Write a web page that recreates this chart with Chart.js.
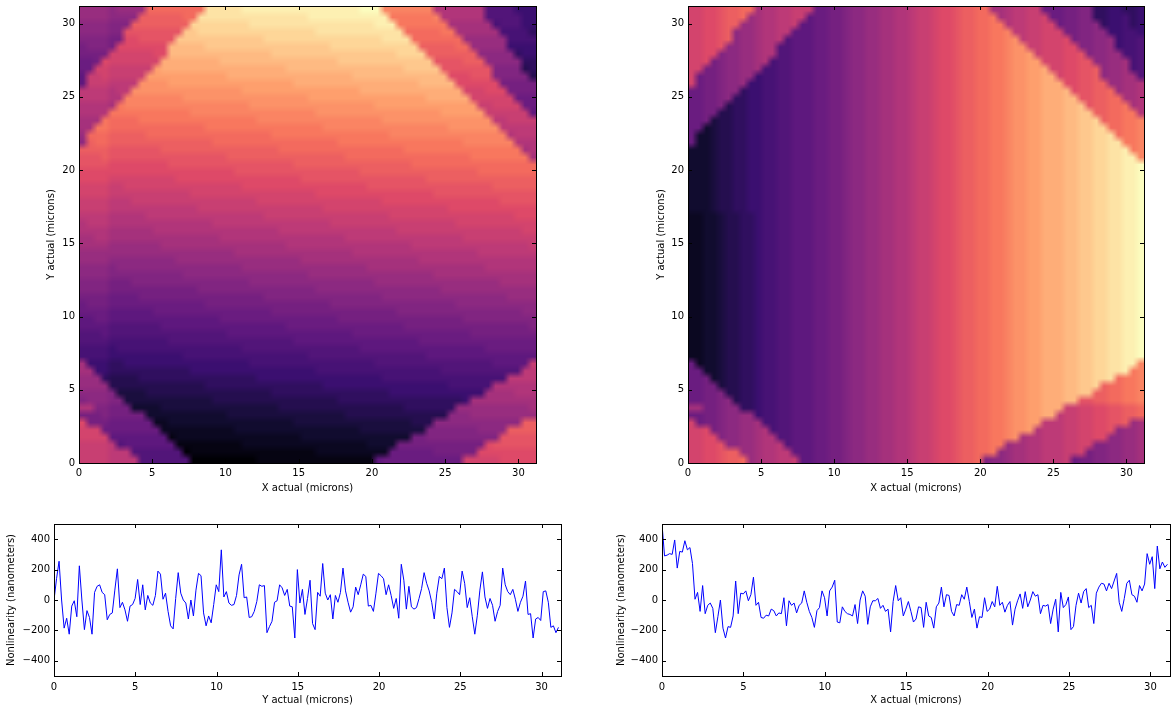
<!DOCTYPE html>
<html><head><meta charset="utf-8">
<style>html,body{margin:0;padding:0;background:#fff;width:1176px;height:712px;overflow:hidden}canvas{position:absolute}</style>
<script src="https://cdn.jsdelivr.net/npm/chart.js@4"></script>
</head><body>
<canvas id="hmL" width="543" height="494" style="left:45px;top:0"></canvas>
<canvas id="hmR" width="521" height="494" style="left:655px;top:0"></canvas>
<canvas id="lnL" width="583" height="196" style="left:5px;top:510px"></canvas>
<canvas id="lnR" width="561" height="196" style="left:615px;top:510px"></canvas>
<script>
const xTicksMap=[0,5,10,15,20,25,30];
const yTicksMap=[0,5,10,15,20,25,30];
const xTicksLine=[0,5,10,15,20,25,30];
const yTicksLine=[-400,-200,0,200,400];
const mapExtent=31.2;
const sampleStep=0.156;
const labelMapX="X actual (microns)";
const labelMapY="Y actual (microns)";
const labelLineLeft="Y actual (microns)";
const labelLineRight="X actual (microns)";
const labelNonlin="Nonlinearity (nanometers)";
const magma=["#000004","#140e36","#3b0f70","#641a80","#8c2981","#b73779","#de4968","#f7705c","#fe9f6d","#fecf92","#fcfdbf"];

// Left map, bottom row first. Each token: level (base 36) + run length.
const leftGrid=[
"j4 i4 97 09 116 a1 b11 k5 l5","j4 i3 97 01 117 210 b6 c6 l8","j4 i1 91 a7 19 217 34 c12 l1 m6","k4 a8 11 217 315 c2 d10 m5",
"k3 b1 b7 210 317 49 d7 e4 n4","l1 c3 b6 22 317 416 53 e12 n2","c3 d1 c5 311 416 514 e3 f9","h2 d2 c3 34 416 517 67 f10 g1",
"d1 e3 d2 412 517 617 71 g9","e4 d1 44 517 616 713 g4 h3","f4 513 616 717 86 h6","f3 61 54 616 717 817 i4",
"g2 72 611 717 817 911 i2","g1 73 62 717 817 916 a5 j1","84 710 817 916 a15","84 71 817 916 a17 b7",
"94 88 917 a17 b16","93 a1 916 a17 b16 c9","a4 97 a17 b16 c17 d1","a2 b2 a15 b16 c17 d10",
"b4 a6 b16 c17 d17 e2","b1 c3 b13 c17 d17 e11","c4 b4 c17 d16 e17 f4","d4 c12 d16 e17 f13",
"d4 c3 d16 e17 f17 g5","e4 d10 e17 f17 g14","e4 d1 e17 f17 g16 h7","f4 e9 f17 g16 h16",
"f4 f17 g16 h17 i8","g4 f7 g17 h17 i16 j1","g2 h2 g15 h17 i16 j10","h4 g6 h17 i16 j17 k2",
"h1 i3 h14 i16 j17 k11","i4 h5 i16 j17 k17 l3","j4 i12 j17 k17 l12","j4 i3 j17 k17 l16 m5",
"k4 j11 k17 l16 m14","k4 j2 k16 l17 m17 n6","l4 k9 l17 m17 n15","l4 l17 m17 n16 o8",
"m4 l8 m17 n16 o17","m3 n1 m16 n16 o17 p8 g1","n4 m7 n16 o17 p16 g1 h1","e1 n1 o2 n14 o17 p17 q7 h3",
"f1 o3 n5 o17 p16 q16 h1 i3","g2 p2 o13 p16 q17 r7 i5","g3 p1 o4 p16 q17 r15 i2 j4","h4 p11 q17 r17 s6 j6 a1",
"h4 g1 p1 q17 r17 s14 j2 k4 b2","i4 h2 q8 r17 s16 t6 k6 b3","i4 h1 i2 r15 s16 t14 k3 l3 c4","a1 j3 i4 r4 s17 t17 u5 l6 c5",
"a1 j2 k1 j5 s11 t17 u13 l3 m3 d5 51","b2 k2 j6 s1 t17 u16 v5 m7 d4 51 61","b2 c1 l1 k7 t8 u16 v13 m4 n3 e5 62","c4 k6 l2 u14 v17 w4 n7 e5 61 72",
"c1 d3 c1 l7 u5 v17 w12 n5 o2 f5 74","d4 c2 l2 m5 v12 w16 x4 o7 f6 84","e4 d2 m8 v2 w16 x12 o5 p2 g6 84 61","e4 d3 n8 w8 x17 y3 p7 g6 81 93 72",
"f4 e4 n6 o2 x15 y11 p6 q1 h6 95 72","f4 e1 f4 o8 x5 y16 z3 q7 h7 94 73"
];

// Right map, bottom row first. One base-36 level per cell.
const rCore="8899aaabbccdeeffgghhijjkllmnnooppqrrss";
const rMid="2233455667"+rCore+"tttuuvvwwxxyyz";
const rHigh="3334556677"+rCore+"tttuuvvwwxxyyz";
const rightGrid=[
"kkllmnnofghhiijaabbccdeeffgghhijjkllmnnodeefgghhiiijbccddeeffg",
"kkllmnnffghhiiaaabbccdeeffgghhijjkllmnnoopefgghhiiijjkcddeeffg",
"kkllmeeffghhi9aaabbccdeeffgghhijjkllmnnooppfgghhiiijjkkddeeffg",
"kkll"+"deeffghh"+"99aaabbccdeeffgghhijjkllmnnooppqr"+"ghhiiijjkkll"+"eeffg",
"kkl"+"cdeeffgh"+"899aaabbccdeeffgghhijjkllmnnooppqrrs"+"hiiijjkkllm"+"effg",
"k"+"bccdeeffg"+rCore+"iiijjkkllmmn"+"fg",
"bbccdeeff"+"7"+rCore+"tt"+"ijjkkllmmnno",
"ggccdee"+"667"+rCore+"ttt"+"jjkkllmmnno",
"bbccde"+"5667"+rCore+"ttt"+"uu"+"mmnnooppq",
"bbccd"+"55667"+rCore+"ttt"+"uuvv"+"nnooppq",
"bbcc"+"455667"+rCore+"ttt"+"uuvvw"+"nooppq",
"bbc"+"3455667"+rCore+"ttt"+"uuvvwwx"+"oppq",
"bb"+"33455667"+rCore+"ttt"+"uuvvwwxxy"+"pq",
"b"+"233455667"+rCore+"ttt"+"uuvvwwxxyy"+"q",
rMid,rMid,rMid,rMid,rMid,rMid,rMid,rMid,rMid,rMid,
rMid,rMid,rMid,rMid,rMid,rMid,rMid,rMid,rMid,rMid,
rHigh,rHigh,rHigh,rHigh,rHigh,rHigh,rHigh,
"3334556677"+rCore+"ttt"+"uuvvwwxxyy"+"q",
"3334556677"+rCore+"ttt"+"uuvvwwxxy"+"pq",
"b"+"334556677"+rCore+"ttt"+"uuvvwwxx"+"ppq",
"b"+"334556677"+rCore+"ttt"+"uuvvwwx"+"oppq",
"bb"+"34556677"+rCore+"ttt"+"uuvvww"+"ooppq",
"bbc"+"4556677"+rCore+"ttt"+"uuvvw"+"nooppq",
"bbcc"+"556677"+rCore+"ttt"+"uuvv"+"nnoopp"+"h",
"bbccd"+"56677"+rCore+"ttt"+"uuv"+"mnnoop"+"gh",
"bbccde"+"6677"+rCore+"ttt"+"uu"+"mmnnoo"+"ggh",
"bbccdee"+"677"+rCore+"ttt"+"u"+"lmmnno"+"fggh",
"k"+"bccdeef"+"77"+rCore+"ttt"+"llmmnn"+"ffggh",
"k"+"bccdeeff"+"7"+rCore+"tt"+"kllmmn"+"effgg"+"9",
"kk"+"ccdeeffg"+rCore+"t"+"kkllmmn"+"effg"+"89",
"kkl"+"cdeeffgh"+"899aaabbccdeeffgghhijjkllmnnooppqrrss"+"kkkllmm"+"eeffg"+"89",
"kkll"+"deeffghh"+"99aaabbccdeeffgghhijjkllmnnooppqrrs"+"jkkkllm"+"deeff"+"889",
"kkllm"+"eeffghh"+"99aaabbccdeeffgghhijjkllmnnooppqrr"+"jjkkkll"+"ddeef"+"7889",
"kkllmn"+"effghhi"+"9aaabbccdeeffgghhijjkllmnnooppqr"+"ijjkkkl"+"cddeef"+"7889",
"kkllmn"+"effghhii"+"aaabbccdeeffgghhijjkllmnnooppq"+"iijjkkk"+"ccddee"+"7788"+"7",
"kkllmnn"+"ffghhiij"+"aabbccdeeffgghhijjkllmnnoopp"+"hiijjkk"+"bccdde"+"6778"+"67",
"kkllmnno"+"fghhiijj"+"abbccdeeffgghhijjkllmnnoop"+"ghiijjk"+"bbccdd"+"66778"+"67",
"kkllmnnoo"+"ghhiijjj"+"bbccdeeffgghhijjkllmnnoo"+"gghiijj"+"bbbccdd"+"6677"+"667"
];

const nonlinY=[0,140,255,0,-185,-120,-225,-40,-5,-110,225,0,-195,-70,-115,-225,50,90,100,50,35,-130,-95,-85,65,205,-50,-15,-65,-140,-40,-30,10,135,-30,100,-65,30,-20,-35,30,190,170,5,45,-75,-170,-190,10,180,45,0,-20,-125,0,-105,65,175,160,-85,-170,-105,-150,-30,100,55,330,20,55,-20,-35,-30,30,165,235,15,20,-115,-110,-75,-10,100,90,95,-215,-175,-140,-15,-5,100,80,30,70,-40,-45,-250,200,-20,70,-95,10,130,-155,-195,50,25,240,45,0,35,-125,30,-15,50,210,60,-15,-80,-45,85,35,100,170,155,-40,-35,-75,45,175,160,140,35,100,30,-55,10,-120,235,130,-60,90,-45,-60,-50,10,75,180,110,60,-15,-125,45,155,140,210,-50,-180,-85,70,55,35,190,110,-50,15,-110,-225,-100,65,185,20,-55,10,-35,-140,-75,-35,210,100,55,35,70,5,-75,-15,25,125,-95,-90,-250,-125,-115,-135,55,60,-15,-180,-170,-215,-180];
const nonlinX=[500,290,295,305,300,395,210,320,315,390,330,345,240,5,50,-75,95,-90,-35,-20,-55,-215,-110,0,-185,-250,-175,-180,-105,125,-90,45,40,60,-5,35,150,-35,-15,-115,-120,-100,-105,-60,-70,-105,-85,-90,15,-170,-5,-35,-20,-85,-35,-20,60,-15,-75,-115,-180,-70,-50,60,15,-105,60,85,130,-145,-150,-45,-75,-90,-95,-105,-30,-155,0,60,25,-160,-45,-5,-5,10,-55,-35,-75,-60,-210,-10,95,-5,15,-105,-60,-10,-75,-145,-125,-45,-50,-180,-15,-105,-115,-185,-45,-20,85,-45,35,30,-75,-105,-30,-35,35,5,85,-10,-115,-60,-185,-110,-115,15,-75,-60,-10,-45,90,-35,-15,-80,-35,-10,-165,-60,-5,40,-55,55,-45,0,55,25,35,-90,-35,-40,-30,-155,-60,5,-210,50,-50,-30,20,-195,-175,-35,45,-20,55,75,-50,-35,-155,45,85,110,105,60,110,75,125,175,-15,-75,10,110,130,35,25,-15,95,60,105,305,235,285,75,355,205,250,215,235];

const BASE36="0123456789abcdefghijklmnopqrstuvwxyz";
function expandRow(row){
  if(row.indexOf(" ")<0) return row;
  return row.split(" ").map(t=>t[0].repeat(parseInt(t.slice(1),10))).join("");
}
function levelColor(level){
  const t=level/35*(magma.length-1), i=Math.min(Math.floor(t),magma.length-2), f=t-i;
  const p=s=>[1,3,5].map(k=>parseInt(s.substr(k,2),16));
  const a=p(magma[i]), b=p(magma[i+1]);
  return "rgb("+a.map((v,k)=>Math.round(v+(b[k]-v)*f)).join(",")+")";
}
const palette=Array.from(BASE36).map((_,i)=>levelColor(i));
function gridPoints(grid){
  const rows=grid.map(expandRow), n=rows.length, pts=[];
  rows.forEach((row,r)=>{
    for(let c=0;c<row.length;c++){
      pts.push({x:(c+.5)*mapExtent/n,y:(r+.5)*mapExtent/n,v:BASE36.indexOf(row[c])});
    }
  });
  return pts;
}
const fontSpec={family:"'DejaVu Sans'",size:10};
// Display smoothing of the finished heatmap, the way an image display interpolates its pixels.
const smoothImage={
  id:"smoothImage",
  afterDatasetsDraw(chart,args,opts){
    const {ctx,chartArea:a,canvas}=chart, n=opts.cells, w=a.right-a.left, h=a.bottom-a.top;
    const off=document.createElement("canvas");
    off.width=n;off.height=n;
    const o=off.getContext("2d");
    o.imageSmoothingEnabled=false;
    o.drawImage(canvas,a.left,a.top,w,h,0,0,n,n);
    ctx.save();
    ctx.imageSmoothingEnabled=true;
    ctx.imageSmoothingQuality="low";
    ctx.drawImage(off,0,0,n,n,a.left,a.top,w,h);
    ctx.restore();
  }
};
const inwardTicks={
  id:"inwardTicks",
  afterDatasetsDraw(chart){
    const {ctx,chartArea:a,scales}=chart, len=4;
    ctx.save();
    ctx.strokeStyle="#000";ctx.lineWidth=1;
    ctx.beginPath();
    scales.x.ticks.forEach(t=>{
      const p=Math.round(scales.x.getPixelForValue(t.value))+.5;
      ctx.moveTo(p,a.bottom);ctx.lineTo(p,a.bottom-len);
      ctx.moveTo(p,a.top);ctx.lineTo(p,a.top+len);
    });
    scales.y.ticks.forEach(t=>{
      const p=Math.round(scales.y.getPixelForValue(t.value))+.5;
      ctx.moveTo(a.left,p);ctx.lineTo(a.left+len,p);
      ctx.moveTo(a.right,p);ctx.lineTo(a.right-len,p);
    });
    ctx.stroke();
    ctx.strokeRect(a.left+.5,a.top+.5,a.right-a.left,a.bottom-a.top);
    ctx.restore();
  }
};
function fmt(v){return String(v).replace("-","\u2212");}
function zeroPad(s){s.paddingTop=0;s.paddingBottom=0;s.paddingLeft=0;s.paddingRight=0;}
function axes(o){
  return {
    x:{type:"linear",min:0,max:mapExtent,
      afterFit(s){s.height=o.xh;zeroPad(s);},
      afterBuildTicks(s){s.ticks=o.xt.map(v=>({value:v}))},
      grid:{display:false,drawTicks:false},border:{display:false},
      ticks:{color:"#000",font:fontSpec,padding:o.xpad,maxRotation:0,autoSkip:false,callback:fmt},
      title:{display:true,text:o.xl,color:"#000",font:fontSpec,padding:0}},
    y:{type:"linear",min:o.ymin,max:o.ymax,
      afterFit(s){s.width=o.yw;zeroPad(s);},
      afterBuildTicks(s){s.ticks=o.yt.map(v=>({value:v}))},
      grid:{display:false,drawTicks:false},border:{display:false},
      ticks:{color:"#000",font:fontSpec,padding:4,autoSkip:false,callback:fmt},
      title:{display:true,text:o.yl,color:"#000",font:fontSpec,padding:0}}
  };
}
function common(o){
  return {responsive:false,animation:false,devicePixelRatio:1,
    layout:{padding:{top:o.top,right:o.right,left:0,bottom:0}},
    plugins:{legend:{display:false},title:{display:false},tooltip:{enabled:false}},
    scales:axes(o)};
}
function heatmap(id,grid,right,yw){
  const n=grid.length;
  const opts=common({top:6,right,xh:31,yw,xpad:4,xt:xTicksMap,yt:yTicksMap,xl:labelMapX,yl:labelMapY,ymin:0,ymax:mapExtent});
  opts.plugins.smoothImage={cells:n};
  new Chart(document.getElementById(id),{
    type:"scatter",
    data:{datasets:[{data:gridPoints(grid),pointStyle:"rect",borderWidth:0,
      pointBorderWidth:0,
      pointRadius:(457/n+.7)/Math.SQRT2,
      pointHoverRadius:(457/n+.7)/Math.SQRT2,
      pointBackgroundColor:c=>palette[c.raw?c.raw.v:0]}]},
    options:opts,
    plugins:[smoothImage,inwardTicks]
  });
}
function lineChart(id,values,right,yw,xl){
  new Chart(document.getElementById(id),{
    type:"line",
    data:{datasets:[{data:values.map((v,i)=>({x:i*sampleStep,y:v})),borderColor:"#0000ff",borderWidth:1,pointRadius:0,tension:0,fill:false}]},
    options:common({top:14,right,xh:30,yw,xpad:5,xt:xTicksLine,yt:yTicksLine,xl,yl:labelNonlin,ymin:-500,ymax:500}),
    plugins:[inwardTicks]
  });
}
heatmap("hmL",leftGrid,52,34);
heatmap("hmR",rightGrid,32,33);
lineChart("lnL",nonlinY,27,49,labelLineLeft);
lineChart("lnR",nonlinX,6,47,labelLineRight);
</script>
</body></html>
